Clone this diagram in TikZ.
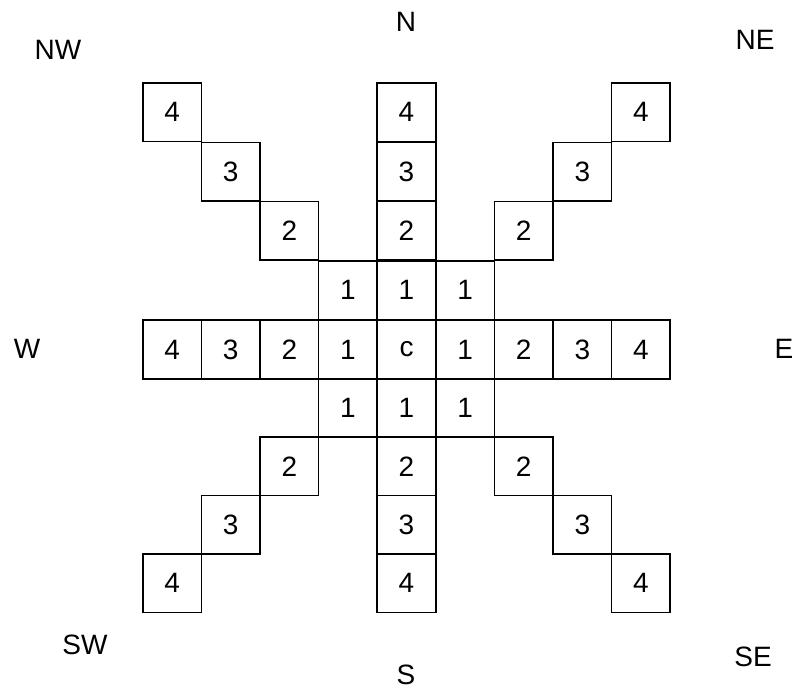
\documentclass[tikz,border=0pt]{standalone}
\usepackage{fontspec}
\setmainfont{Liberation Sans}
\begin{document}
\begin{tikzpicture}[x=1pt,y=-1pt,
  cell/.style={draw=black,line width=1.5pt,minimum size=58.6pt,inner sep=0pt,font=\fontsize{28}{32}\selectfont},
  dirlabel/.style={font=\fontsize{28}{32}\selectfont,inner sep=0pt}]
\useasboundingbox (0,0) rectangle (799,692);
\node[cell] (c) at (406.5,349.5) {c};
\foreach \d/\dx/\dy in {n/0/-1, s/0/1, e/1/0, w/-1/0, ne/1/-1, nw/-1/-1, se/1/1, sw/-1/1}{
  \foreach \k in {1,...,4}{
    \pgfmathsetmacro{\sy}{\dy<0 ? 59.3 : 58.4}
    \node[cell, name=\d\k] at ({406.5+\k*\dx*58.6},{349.5+\k*\dy*\sy}) {\k};
  }
}
\node[dirlabel] (lN) at (406,22) {N};
\node[dirlabel] (lS) at (406,675) {S};
\node[dirlabel] (lW) at (27,349) {W};
\node[dirlabel] (lE) at (784,349) {E};
\node[dirlabel] (lNW) at (58,50) {NW};
\node[dirlabel] (lNE) at (755,40) {NE};
\node[dirlabel] (lSW) at (85,645) {SW};
\node[dirlabel] (lSE) at (753,657) {SE};
\end{tikzpicture}
\end{document}
